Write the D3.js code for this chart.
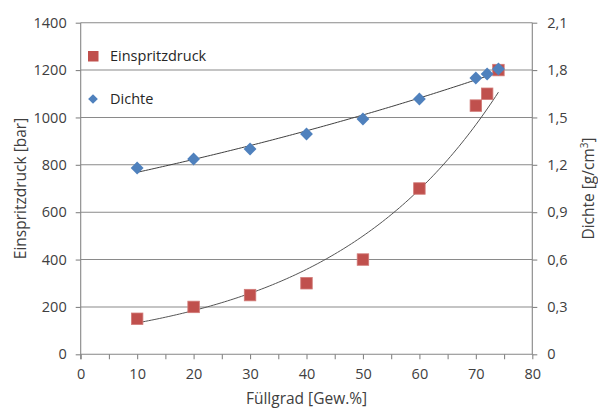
<!DOCTYPE html>
<html>
<head>
<meta charset="utf-8">
<script src="https://cdn.jsdelivr.net/npm/d3@7"></script>
<style>
  html, body { margin: 0; padding: 0; background: #fff; }
  svg { display: block; font-family: "Open Sans", "Noto Sans", sans-serif; }
</style>
</head>
<body>
<svg id="chart" width="598" height="410"></svg>
<script>
// Füllgrad in Gew.%
const fuellgrad = [10, 20, 30, 40, 50, 60, 70, 72, 74];
// Einspritzdruck in bar (linke Achse)
const einspritzdruck = [150, 200, 250, 300, 400, 700, 1050, 1100, 1200];
// Dichte in g/cm³ (rechte Achse)
const dichte = [1.18, 1.237, 1.30, 1.395, 1.49, 1.617, 1.75, 1.775, 1.807];

const xTicks = [0, 10, 20, 30, 40, 50, 60, 70, 80];
const xMinorTicks = [0, 5, 10, 15, 20, 25, 30, 35, 40, 45, 50, 55, 60, 65, 70, 75, 80];
const yLeftTicks = [0, 200, 400, 600, 800, 1000, 1200, 1400];
const yRightTicks = [0, 0.3, 0.6, 0.9, 1.2, 1.5, 1.8, 2.1];

const seriesNames = ["Einspritzdruck", "Dichte"];
const colors = { druck: "#C0504D", dichte: "#4F81BD" };

const svg = d3.select("#chart");
const plot = { left: 80.7, right: 532.3, top: 22.7, bottom: 354.3 };

const x = d3.scaleLinear().domain([0, 80]).range([plot.left, plot.right]);
const yL = d3.scaleLinear().domain([0, 1400]).range([plot.bottom, plot.top]);
const yR = d3.scaleLinear().domain([0, 2.1]).range([plot.bottom, plot.top]);

const de = d3.formatLocale({ decimal: ",", thousands: ".", grouping: [3], currency: ["", " €"] });
const fmtR = v => v === 0 ? "0" : de.format(".1f")(v);

const axisColor = "#868686";
const textColor = "#404040";

// horizontal gridlines at the left-axis ticks
svg.append("g")
  .selectAll("line")
  .data(yLeftTicks.filter(v => v > 0))
  .join("line")
  .attr("x1", plot.left).attr("x2", plot.right)
  .attr("y1", d => yL(d)).attr("y2", d => yL(d))
  .attr("stroke", "#8a8a8a").attr("stroke-width", 1.1);

// left axis
const gL = svg.append("g").attr("transform", `translate(${plot.left},0)`)
  .call(d3.axisLeft(yL).tickValues(yLeftTicks).tickSize(5).tickPadding(9).tickFormat(d3.format("d")));
// right axis
const gR = svg.append("g").attr("transform", `translate(${plot.right},0)`)
  .call(d3.axisRight(yR).tickValues(yRightTicks).tickSize(5).tickPadding(10).tickFormat(fmtR));
// bottom axis: minor ticks every 5, labels every 10
const gB = svg.append("g").attr("transform", `translate(0,${plot.bottom})`)
  .call(d3.axisBottom(x).tickValues(xMinorTicks).tickSize(5).tickPadding(9)
    .tickFormat(d => xTicks.includes(d) ? d : ""));

[gL, gR, gB].forEach(g => {
  g.select(".domain").attr("stroke", axisColor).attr("stroke-width", 1.1);
  g.selectAll(".tick line").attr("stroke", axisColor).attr("stroke-width", 1.1);
  g.selectAll(".tick text").attr("fill", textColor).style("font-size", "14.5px")
    .style("font-family", "'Open Sans', sans-serif");
});
gL.select(".domain").attr("d", `M0,${plot.bottom + 5}V${plot.top}`);
gR.select(".domain").attr("d", `M0,${plot.bottom}V${plot.top}`);
gB.select(".domain").attr("d", `M${plot.left},0H${plot.right}`);

// exponential trendlines (least squares on log values)
function expFit(xs, ys) {
  const ly = ys.map(Math.log);
  const mx = d3.mean(xs), my = d3.mean(ly);
  const k = d3.sum(xs, (v, i) => (v - mx) * (ly[i] - my)) / d3.sum(xs, v => (v - mx) ** 2);
  const a = Math.exp(my - k * mx);
  return v => a * Math.exp(k * v);
}
const fDruck = expFit(fuellgrad, einspritzdruck);
const fDichte = expFit(fuellgrad, dichte);
const xs = d3.range(d3.min(fuellgrad), d3.max(fuellgrad) + 0.001, 0.5);

svg.append("path")
  .attr("d", d3.line().x(d => x(d)).y(d => yL(fDruck(d)))(xs))
  .attr("fill", "none").attr("stroke", "#555").attr("stroke-width", 1);
svg.append("path")
  .attr("d", d3.line().x(d => x(d)).y(d => yR(fDichte(d)))(xs))
  .attr("fill", "none").attr("stroke", "#404040").attr("stroke-width", 1);

// markers
const sq = 11.5;
svg.append("g").selectAll("rect")
  .data(fuellgrad.map((f, i) => [f, einspritzdruck[i]]))
  .join("rect")
  .attr("x", d => x(d[0]) - sq / 2).attr("y", d => yL(d[1]) - sq / 2)
  .attr("width", sq).attr("height", sq)
  .attr("fill", colors.druck).attr("stroke", "#d17b78").attr("stroke-width", 0.8);

const diamond = d3.symbol().type(d3.symbolDiamond2).size(105);
svg.append("g").selectAll("path")
  .data(fuellgrad.map((f, i) => [f, dichte[i]]))
  .join("path")
  .attr("d", diamond)
  .attr("transform", d => `translate(${x(d[0])},${yR(d[1])})`)
  .attr("fill", colors.dichte);

// legend
const legend = svg.append("g");
legend.append("rect").attr("x", 88).attr("y", 51).attr("width", 10.5).attr("height", 10.5)
  .attr("fill", colors.druck);
legend.append("text").attr("x", 110).attr("y", 56).attr("dy", "0.35em")
  .attr("fill", "#262626").style("font-size", "14.5px").text(seriesNames[0]);
legend.append("path").attr("d", d3.symbol().type(d3.symbolDiamond2).size(60))
  .attr("transform", "translate(93,99)").attr("fill", colors.dichte);
legend.append("text").attr("x", 110).attr("y", 99).attr("dy", "0.35em")
  .attr("fill", "#262626").style("font-size", "14.5px").text(seriesNames[1]);

// axis titles
const midY = (plot.top + plot.bottom) / 2;
svg.append("text")
  .attr("transform", `translate(21,${midY}) rotate(-90)`)
  .attr("text-anchor", "middle").attr("dy", "0.35em")
  .attr("fill", textColor).style("font-size", "15.5px").text("Einspritzdruck [bar]");
svg.append("text")
  .attr("transform", `translate(589,${midY}) rotate(-90)`)
  .attr("text-anchor", "middle").attr("dy", "0.35em")
  .attr("fill", textColor).style("font-size", "15.5px")
  .html("Dichte [g/cm<tspan dy='-6' font-size='10px'>3</tspan><tspan dy='6'>]</tspan>");
svg.append("text")
  .attr("x", (plot.left + plot.right) / 2).attr("y", 399)
  .attr("text-anchor", "middle").attr("dy", "0.35em")
  .attr("fill", textColor).style("font-size", "15.5px").text("Füllgrad [Gew.%]");
</script>
</body>
</html>
